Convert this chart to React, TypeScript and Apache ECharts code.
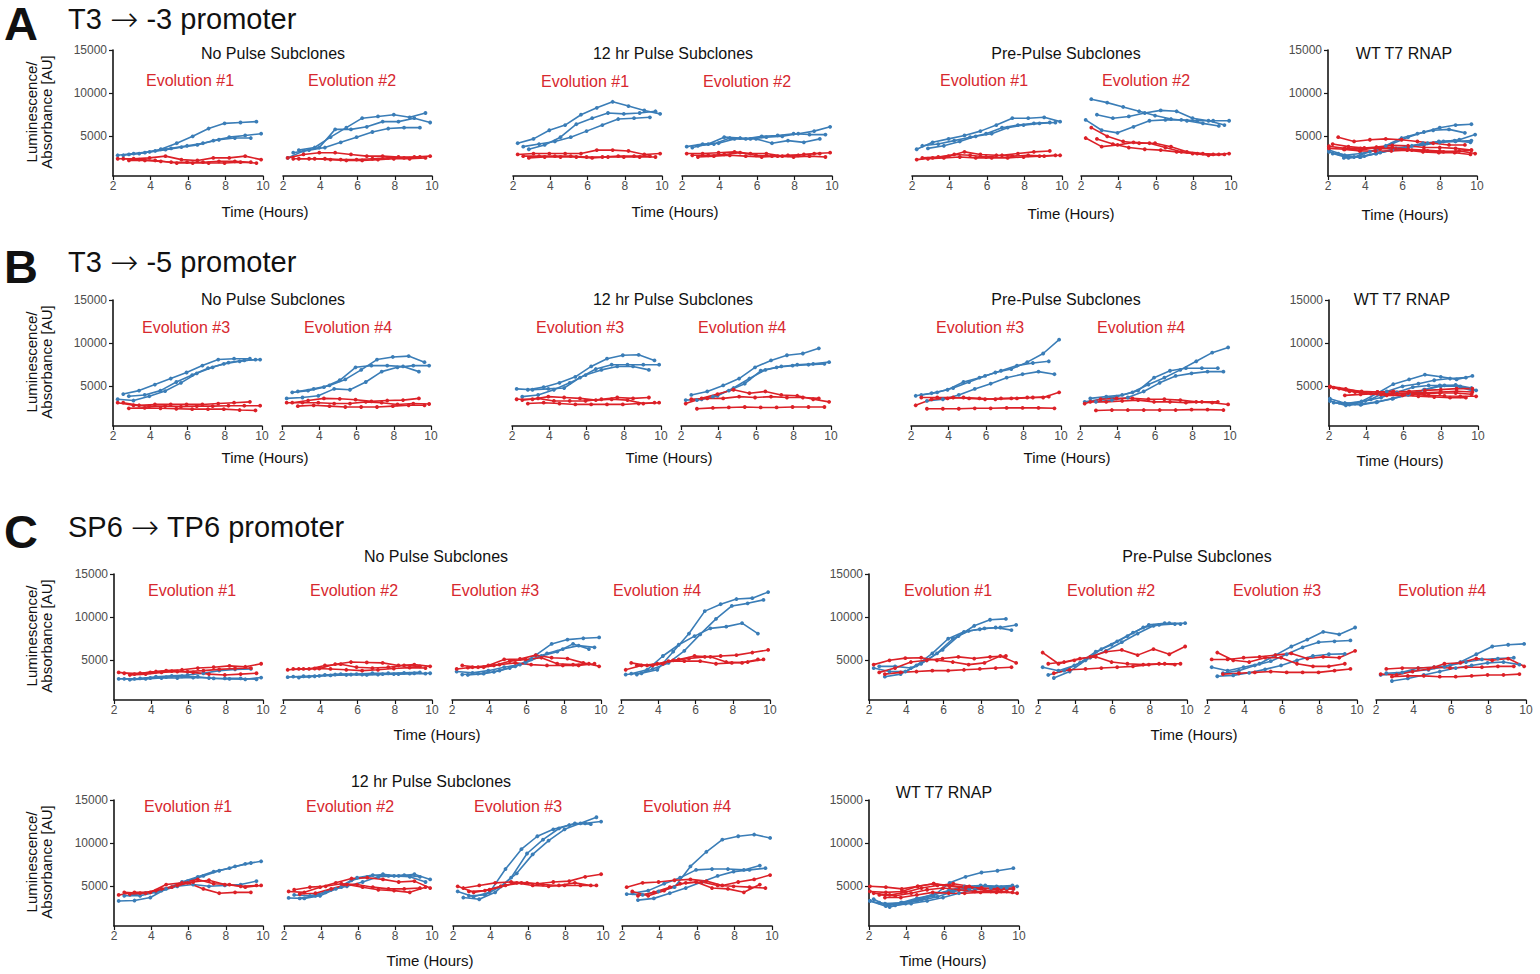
import React, { useEffect, useRef } from "react";
import * as echarts from "echarts";

// measurement times (hours) of the three wells per panel, plus an extra one used in WT panels
const T1 = [2.25, 3.1, 3.95, 4.8, 5.65, 6.5, 7.35, 8.2, 9.05, 9.9];
const T2 = [2.55, 3.4, 4.25, 5.1, 5.95, 6.8, 7.65, 8.5, 9.35];
const T3 = [2.85, 3.7, 4.55, 5.4, 6.25, 7.1, 7.95, 8.8, 9.65];
const TW = [2.05, 2.9, 3.75, 4.6, 5.45, 6.3, 7.15, 8.0, 8.85, 9.7];
const LINE_TIMES = [T1, T2, T3];
const WT_TIMES = [TW, T1, T2, T3, TW];

const X_TICKS = [2, 4, 6, 8, 10];
const Y_TICKS = [5000, 10000, 15000];

// ---------- A: T3 -> -3 promoter ----------
const A_NP1_BLUE = [
  [2800, 3000, 3200, 3450, 3750, 4000, 4500, 4900, 5100, 5300],
  [2800, 3000, 3300, 3600, 3900, 4200, 4600, 4800, 4800],
  [2900, 3100, 3500, 4200, 5000, 5900, 6500, 6600, 6700],
];
const A_NP1_RED = [
  [2400, 2400, 2500, 2700, 2300, 2200, 2500, 2500, 2700, 2300],
  [2400, 2300, 2200, 2000, 2000, 2000, 2100, 2100, 2000],
  [2200, 2200, 2100, 1900, 1900, 1900, 1900, 2000, 1900],
];
const A_NP2_BLUE = [
  [2500, 3300, 3700, 5800, 5800, 6100, 6700, 6700, 7100, 6600],
  [3100, 3400, 3700, 4300, 4900, 5500, 5900, 6000, 6000],
  [3400, 3700, 4900, 6000, 7100, 7300, 7500, 7200, 7700],
];
const A_NP2_RED = [
  [2500, 2900, 3100, 3100, 2900, 2700, 2700, 2600, 2600, 2700],
  [2400, 2400, 2400, 2300, 2300, 2400, 2500, 2500, 2600],
  [2400, 2400, 2300, 2200, 2200, 2300, 2400, 2400, 2500],
];
const A_12_1_BLUE = [
  [4200, 4700, 5700, 6300, 7500, 8300, 9000, 8500, 8000, 7600],
  [3800, 4100, 4400, 4900, 5600, 6300, 7000, 7100, 7200],
  [3500, 4000, 4900, 6400, 7100, 7700, 7600, 7700, 7900],
];
const A_12_1_RED = [
  [2900, 3000, 3000, 3000, 3000, 3400, 3400, 3300, 2900, 3000],
  [2700, 2700, 2700, 2700, 2600, 2600, 2700, 2700, 2700],
  [2500, 2600, 2600, 2600, 2500, 2600, 2600, 2600, 2600],
];
const A_12_2_BLUE = [
  [3800, 4100, 4200, 4700, 4700, 4900, 5000, 5300, 5600, 6100],
  [3700, 4100, 4900, 4800, 4700, 4200, 4500, 4300, 4700],
  [3900, 4100, 4800, 4700, 5000, 5100, 5300, 5200, 5200],
];
const A_12_2_RED = [
  [3000, 3000, 3100, 3200, 3000, 3000, 2700, 2800, 3000, 3100],
  [2800, 2800, 2900, 3100, 2800, 2700, 2800, 2900, 3000],
  [2600, 2700, 2800, 2700, 2600, 2700, 2600, 2700, 2600],
];
const A_PRE1_BLUE = [
  [3500, 4300, 4700, 5100, 5600, 6300, 7100, 7100, 7200, 6700],
  [3900, 4100, 4500, 4900, 5300, 6000, 6300, 6500, 6600],
  [3600, 3900, 4400, 5000, 5300, 6000, 6300, 6500, 6600],
];
const A_PRE1_RED = [
  [2300, 2500, 2700, 3200, 2900, 2800, 2700, 2800, 2700, 2800],
  [2500, 2600, 2900, 2800, 2600, 2800, 3000, 3200, 3300],
  [2400, 2500, 2600, 2500, 2500, 2500, 2600, 2700, 2800],
];
const A_PRE2_BLUE = [
  [6900, 5700, 5400, 6100, 6800, 6900, 6900, 6800, 6800, 6800],
  [9300, 8900, 8400, 7900, 7400, 7000, 6800, 6500, 6200],
  [7500, 7100, 7300, 7700, 8000, 7900, 7100, 6800, 6300],
];
const A_PRE2_RED = [
  [4800, 3800, 4000, 4300, 4200, 3700, 3200, 3000, 2900, 3000],
  [6000, 5000, 4400, 4200, 4200, 3800, 3200, 3000, 2900],
  [4700, 4100, 3700, 3500, 3400, 3200, 3000, 2800, 2900],
];
const A_WT_BLUE = [
  [3400, 2800, 3000, 3400, 4150, 4900, 5500, 6000, 6300, 6400],
  [3000, 2500, 2700, 3100, 3600, 3900, 4200, 4400, 4600, 5200],
  [3000, 2600, 3200, 3900, 4800, 5300, 5700, 5800, 5400],
  [2500, 2600, 3000, 3400, 3800, 4200, 4400, 4500, 4300],
  [3200, 2700, 2600, 3000, 3400, 3700, 4000, 4300, 4400, 4500],
];
const A_WT_RED = [
  [3850, 3600, 3600, 3750, 3950, 3900, 3700, 3700, 3600, 3400],
  [4100, 3800, 3650, 3550, 3550, 3400, 3300, 3200, 3300, 3000],
  [4900, 4400, 4600, 4700, 4600, 4400, 4200, 4000, 4000],
  [3500, 3300, 3300, 3300, 3400, 3200, 3100, 3100, 2900],
  [3600, 3500, 3400, 3700, 3700, 3500, 3400, 3300, 3200, 3400],
];

// ---------- B: T3 -> -5 promoter ----------
const B_NP1_BLUE = [
  [3500, 3350, 3850, 4450, 5400, 6500, 7200, 7750, 8000, 8100],
  [4100, 4500, 5200, 5900, 6600, 7400, 8100, 8200, 8200],
  [3850, 4000, 4500, 5500, 6300, 7100, 7600, 7900, 8100],
];
const B_NP1_RED = [
  [3100, 2800, 2700, 2700, 2650, 2700, 2700, 2750, 2750, 2750],
  [3100, 2800, 2900, 2900, 2900, 2900, 3000, 3100, 3200],
  [2450, 2500, 2450, 2400, 2350, 2350, 2350, 2250, 2200],
];
const B_NP2_BLUE = [
  [3600, 3700, 3900, 4700, 4600, 5500, 6700, 7200, 7400, 7400],
  [4300, 4500, 4900, 5700, 7200, 7400, 7400, 7300, 6700],
  [4400, 4700, 5100, 5800, 6900, 8100, 8400, 8500, 7800],
];
const B_NP2_RED = [
  [3100, 3100, 3100, 3000, 3000, 3200, 3100, 2900, 3000, 2950],
  [3100, 3350, 3600, 3550, 3450, 3250, 3350, 3400, 3600],
  [2700, 2800, 2700, 2600, 2600, 2600, 2700, 2800, 2800],
];
const B_12_1_BLUE = [
  [4700, 4600, 4700, 4800, 6000, 7000, 7500, 7500, 7500, 7500],
  [3800, 4000, 4600, 5400, 6300, 6900, 7300, 7300, 6900],
  [4600, 4900, 5400, 6100, 7300, 8200, 8600, 8650, 8000],
];
const B_12_1_RED = [
  [3500, 3500, 3800, 3700, 3600, 3400, 3500, 3400, 3000, 3100],
  [3400, 3600, 3300, 3300, 3300, 3500, 3700, 3600, 3700],
  [3000, 3100, 3000, 2900, 2900, 2900, 2900, 3000, 3100],
];
const B_12_2_BLUE = [
  [3400, 3500, 3900, 4800, 5900, 6900, 7300, 7500, 7600, 7800],
  [4000, 4400, 5100, 5900, 7200, 8000, 8600, 8800, 9400],
  [3400, 3800, 4500, 5300, 6800, 7200, 7400, 7500, 7600],
];
const B_12_2_RED = [
  [3000, 3600, 4100, 4600, 4200, 4400, 4000, 3900, 3500, 3200],
  [3500, 3600, 3600, 3800, 3700, 3800, 3700, 3700, 3600],
  [2400, 2500, 2550, 2600, 2550, 2550, 2600, 2600, 2600],
];
const B_PRE1_BLUE = [
  [3900, 4200, 4600, 5500, 6000, 6600, 7000, 7800, 8800, 10400],
  [4000, 4300, 4800, 5500, 6200, 6800, 7400, 7700, 7900],
  [3300, 3500, 4000, 4700, 5300, 6000, 6400, 6700, 6400],
];
const B_PRE1_RED = [
  [2800, 3500, 3600, 3700, 3600, 3500, 3600, 3700, 3700, 4300],
  [3700, 3700, 3700, 3600, 3500, 3600, 3600, 3700, 3800],
  [2400, 2400, 2400, 2450, 2450, 2500, 2500, 2500, 2450],
];
const B_PRE2_BLUE = [
  [3200, 3500, 3800, 4300, 5200, 6000, 6900, 7900, 8900, 9500],
  [3600, 3800, 4000, 4500, 6000, 6800, 7100, 7100, 7100],
  [3200, 3400, 3700, 4400, 5400, 6200, 6500, 6700, 6700],
];
const B_PRE2_RED = [
  [3000, 3500, 3600, 3600, 3500, 3500, 3400, 3200, 3100, 2900],
  [3200, 3200, 3300, 3400, 3200, 3200, 3100, 3200, 3200],
  [2200, 2250, 2250, 2250, 2250, 2250, 2300, 2300, 2250],
];
const B_WT_BLUE = [
  [3560, 3000, 3250, 4200, 5250, 5800, 6350, 6100, 5800, 6200],
  [3100, 2870, 3300, 3700, 4300, 4900, 5100, 5100, 5000, 4530],
  [3100, 3000, 3500, 4400, 5000, 5300, 5700, 5900, 6000],
  [3060, 2850, 3150, 3550, 4000, 4600, 5100, 5150, 4800],
  [3290, 2790, 2950, 3200, 3600, 4100, 4600, 5000, 5000, 4500],
];
const B_WT_RED = [
  [5000, 4700, 4340, 4340, 4340, 4420, 4530, 4610, 4730, 4730],
  [4840, 4420, 4220, 4070, 4150, 4070, 3950, 3880, 3840, 3840],
  [4730, 4340, 4150, 3950, 3950, 3840, 3760, 3680, 3680],
  [3950, 4070, 4150, 4150, 4220, 4150, 4220, 4220, 4070],
  [4920, 4610, 4420, 4340, 4420, 4340, 4260, 4340, 4420, 4340],
];

// ---------- C: SP6 -> TP6 promoter ----------
const C_NP1_BLUE = [
  [2850, 2850, 2950, 3050, 3150, 3100, 2900, 2850, 2800, 3000],
  [2850, 2900, 3100, 3200, 3300, 3500, 3800, 3950, 4000],
  [2750, 2850, 2950, 2950, 3000, 2950, 2900, 2900, 2800],
];
const C_NP1_RED = [
  [3600, 3400, 3600, 3800, 3900, 4100, 4200, 4350, 4250, 4600],
  [3500, 3500, 3700, 3750, 3700, 3800, 3950, 4050, 4100],
  [3300, 3400, 3600, 3700, 3600, 3400, 3300, 3400, 3500],
];
const C_NP2_BLUE = [
  [3050, 3150, 3200, 3350, 3350, 3300, 3400, 3400, 3500, 3500],
  [3100, 3100, 3300, 3400, 3400, 3500, 3500, 3550, 3600],
  [3000, 3150, 3250, 3300, 3350, 3350, 3400, 3450, 3450],
];
const C_NP2_RED = [
  [3900, 4000, 4050, 4550, 4800, 4750, 4700, 4400, 4500, 4300],
  [4000, 4000, 4400, 4550, 4200, 4100, 4200, 4400, 4300],
  [4000, 4050, 4000, 3900, 3800, 3900, 4050, 4150, 4100],
];
const C_NP3_BLUE = [
  [3700, 3550, 3800, 4200, 4500, 5600, 6900, 7400, 7550, 7650],
  [3350, 3450, 3650, 4100, 4700, 5500, 6000, 6900, 6300],
  [3300, 3450, 3800, 4300, 5100, 5800, 6300, 6700, 6500],
];
const C_NP3_RED = [
  [4000, 4200, 4400, 5100, 5150, 5600, 5300, 5200, 4700, 4300],
  [4400, 4200, 4400, 4900, 5100, 5300, 4600, 4500, 4600],
  [4150, 4200, 4500, 4700, 4500, 4400, 4400, 4400, 4600],
];
const C_NP4_BLUE = [
  [3350, 3500, 3900, 6000, 8100, 10700, 11500, 12100, 12200, 12900],
  [3450, 3900, 5500, 6800, 7800, 8700, 8900, 9300, 8100],
  [3350, 4000, 4700, 6100, 8000, 9800, 11300, 11600, 12000],
];
const C_NP4_RED = [
  [3900, 4400, 4600, 5000, 5200, 5400, 5500, 5600, 5900, 6200],
  [4700, 4400, 4600, 5100, 5500, 5400, 4800, 4700, 5100],
  [4400, 4400, 4900, 4900, 4900, 4600, 4700, 4800, 5100],
];
const C_PRE1_BLUE = [
  [4100, 3700, 3700, 4600, 5800, 7500, 8400, 8700, 8800, 9100],
  [4300, 4300, 4100, 5000, 6200, 7800, 9000, 9700, 9800],
  [3100, 3400, 4400, 5800, 7500, 8300, 8600, 8800, 8500],
];
const C_PRE1_RED = [
  [4500, 5000, 5250, 5300, 5000, 4800, 4500, 4700, 5500, 4700],
  [3600, 4100, 4800, 5000, 5200, 5400, 5200, 5400, 5500],
  [3400, 3600, 3700, 3800, 3800, 3900, 4000, 4100, 4200],
];
const C_PRE2_BLUE = [
  [4200, 3800, 4400, 5300, 6100, 7100, 8100, 9000, 9300, 9300],
  [3300, 3800, 4700, 6000, 6800, 7800, 8800, 9100, 9200],
  [2950, 3700, 5000, 6300, 7200, 8200, 9100, 9300, 9200],
];
const C_PRE2_RED = [
  [5900, 4600, 5000, 5400, 6000, 6200, 5600, 6300, 5700, 6600],
  [4600, 4800, 5200, 5400, 4800, 4600, 4500, 4600, 4500],
  [3500, 3900, 4000, 4100, 4200, 4300, 4500, 4600, 4600],
];
const C_PRE3_BLUE = [
  [4200, 3800, 4200, 4600, 5600, 6600, 7400, 8300, 8000, 8800],
  [3150, 3250, 3550, 3950, 4400, 5000, 5500, 5700, 5750],
  [3500, 3800, 4400, 4900, 5700, 6500, 7100, 7200, 7300],
];
const C_PRE3_RED = [
  [5100, 5100, 5300, 5400, 5600, 5800, 5200, 5400, 5300, 6100],
  [5900, 5000, 4800, 5300, 5300, 4600, 4300, 4300, 4600],
  [3400, 3500, 3600, 3700, 3600, 3600, 3600, 3800, 4000],
];
const C_PRE4_BLUE = [
  [3300, 3450, 3750, 3900, 4250, 4800, 5700, 6600, 6800, 6900],
  [3500, 3600, 4100, 4200, 4400, 4800, 5100, 5200, 5300],
  [2600, 2900, 3300, 3700, 4100, 4400, 4700, 4800, 4500],
];
const C_PRE4_RED = [
  [3400, 3300, 3700, 4000, 4600, 4700, 5200, 5000, 5200, 4300],
  [4000, 4100, 4100, 4200, 4100, 4200, 4200, 4300, 4300],
  [3100, 3200, 3200, 3100, 3100, 3200, 3300, 3300, 3400],
];
const C_12_1_BLUE = [
  [3300, 3350, 3700, 4700, 5500, 6100, 6700, 7100, 7600, 7900],
  [3900, 3900, 4300, 4900, 5600, 6200, 6800, 7300, 7700],
  [4000, 4200, 4500, 5000, 5200, 5000, 5100, 5200, 5600],
];
const C_12_1_RED = [
  [4000, 4300, 4300, 5200, 5400, 5800, 5300, 5200, 4900, 5100],
  [4300, 4200, 4500, 4900, 5400, 4700, 4200, 4300, 4300],
  [4100, 4200, 4700, 5100, 5500, 5700, 5200, 5000, 5100],
];
const C_12_2_BLUE = [
  [3650, 3600, 3900, 4700, 5700, 6100, 6400, 6200, 6400, 5800],
  [4000, 3900, 4300, 4900, 6000, 6300, 6200, 6300, 6100],
  [3600, 3900, 4600, 5000, 5500, 6100, 6200, 6100, 5500],
];
const C_12_2_RED = [
  [4400, 4300, 4900, 5400, 5900, 6000, 5800, 5500, 5600, 4800],
  [4600, 4900, 5000, 5300, 5200, 4900, 4700, 4700, 4800],
  [4100, 4200, 4700, 5200, 4900, 4600, 4500, 4300, 4900],
];
const C_12_3_BLUE = [
  [4400, 3800, 4300, 7000, 9300, 10800, 11600, 12100, 12300, 12500],
  [3700, 3500, 4300, 6000, 8800, 10400, 11700, 12300, 12200],
  [3900, 4000, 5000, 6500, 8700, 10300, 11600, 12300, 13000],
];
const C_12_3_RED = [
  [5000, 4300, 4600, 5100, 5400, 5300, 5500, 5600, 6100, 6400],
  [4800, 5100, 5400, 5500, 5400, 5200, 5100, 5400, 5100],
  [4400, 4500, 5000, 5400, 5100, 5000, 5100, 5100, 5100],
];
const C_12_4_BLUE = [
  [4100, 4000, 4400, 4900, 7300, 9000, 10400, 10800, 11000, 10600],
  [4200, 4500, 5300, 6000, 6900, 7000, 7000, 6900, 7400],
  [3400, 3600, 4200, 4800, 5500, 6200, 6700, 6900, 7100],
];
const C_12_4_RED = [
  [4900, 5400, 5500, 5700, 5800, 5600, 5100, 5500, 5800, 6300],
  [4400, 3900, 4500, 5300, 5500, 4800, 4700, 4300, 5200],
  [3900, 4300, 4900, 5400, 5500, 5100, 5000, 4900, 4800],
];
const C_WT_BLUE = [
  [3300, 2700, 3100, 3400, 3900, 5400, 6100, 6600, 6800, 7100],
  [3500, 2600, 3000, 3400, 3800, 4400, 4700, 5100, 4900, 5000],
  [3100, 2800, 3000, 3300, 3700, 4200, 4600, 4800, 4800],
  [3000, 3100, 3600, 4000, 4500, 5000, 5100, 5000, 5100],
  [3300, 2900, 3100, 3500, 4100, 4400, 4800, 5000, 4900, 4700],
];
const C_WT_RED = [
  [5000, 4900, 4700, 5000, 5300, 5100, 4900, 4800, 4700, 4800],
  [4200, 4000, 4300, 4800, 5100, 5300, 5000, 4500, 4400, 4200],
  [4000, 3900, 4200, 4600, 4800, 4600, 4400, 4400, 4400],
  [3700, 3700, 4000, 4300, 4200, 4200, 4300, 4300, 4300],
  [4400, 4300, 4400, 5000, 5300, 5000, 4800, 4800, 4600, 4700],
];

// ---------- layout ----------
const FONT = "'Liberation Sans', Arial, Helvetica, sans-serif";
const BLUE = "#3a7db7";
const RED = "#dc2027";
const TEXT_RED = "#d7282e";
const GRID_H = 126;
const TOP_A = 50;
const TOP_B = 300;
const TOP_CT = 574;
const TOP_CB = 800;

type Panel = { top: number; x0: number; x1: number; axisY: boolean; blue: number[][]; red: number[][]; wt?: boolean };

const PANELS: Panel[] = [
  { top: TOP_A, x0: 113, x1: 263, axisY: true, blue: A_NP1_BLUE, red: A_NP1_RED },
  { top: TOP_A, x0: 283, x1: 432, axisY: false, blue: A_NP2_BLUE, red: A_NP2_RED },
  { top: TOP_A, x0: 513, x1: 662, axisY: false, blue: A_12_1_BLUE, red: A_12_1_RED },
  { top: TOP_A, x0: 682, x1: 832, axisY: false, blue: A_12_2_BLUE, red: A_12_2_RED },
  { top: TOP_A, x0: 912, x1: 1062, axisY: false, blue: A_PRE1_BLUE, red: A_PRE1_RED },
  { top: TOP_A, x0: 1081, x1: 1231, axisY: false, blue: A_PRE2_BLUE, red: A_PRE2_RED },
  { top: TOP_A, x0: 1328, x1: 1477, axisY: true, blue: A_WT_BLUE, red: A_WT_RED, wt: true },

  { top: TOP_B, x0: 113, x1: 262, axisY: true, blue: B_NP1_BLUE, red: B_NP1_RED },
  { top: TOP_B, x0: 282, x1: 431, axisY: false, blue: B_NP2_BLUE, red: B_NP2_RED },
  { top: TOP_B, x0: 512, x1: 661, axisY: false, blue: B_12_1_BLUE, red: B_12_1_RED },
  { top: TOP_B, x0: 681, x1: 831, axisY: false, blue: B_12_2_BLUE, red: B_12_2_RED },
  { top: TOP_B, x0: 911, x1: 1061, axisY: false, blue: B_PRE1_BLUE, red: B_PRE1_RED },
  { top: TOP_B, x0: 1080, x1: 1230, axisY: false, blue: B_PRE2_BLUE, red: B_PRE2_RED },
  { top: TOP_B, x0: 1329, x1: 1478, axisY: true, blue: B_WT_BLUE, red: B_WT_RED, wt: true },

  { top: TOP_CT, x0: 114, x1: 263, axisY: true, blue: C_NP1_BLUE, red: C_NP1_RED },
  { top: TOP_CT, x0: 283, x1: 432, axisY: false, blue: C_NP2_BLUE, red: C_NP2_RED },
  { top: TOP_CT, x0: 452, x1: 601, axisY: false, blue: C_NP3_BLUE, red: C_NP3_RED },
  { top: TOP_CT, x0: 621, x1: 770, axisY: false, blue: C_NP4_BLUE, red: C_NP4_RED },
  { top: TOP_CT, x0: 869, x1: 1018, axisY: true, blue: C_PRE1_BLUE, red: C_PRE1_RED },
  { top: TOP_CT, x0: 1038, x1: 1187, axisY: false, blue: C_PRE2_BLUE, red: C_PRE2_RED },
  { top: TOP_CT, x0: 1207, x1: 1357, axisY: false, blue: C_PRE3_BLUE, red: C_PRE3_RED },
  { top: TOP_CT, x0: 1376, x1: 1526, axisY: false, blue: C_PRE4_BLUE, red: C_PRE4_RED },

  { top: TOP_CB, x0: 114, x1: 263, axisY: true, blue: C_12_1_BLUE, red: C_12_1_RED },
  { top: TOP_CB, x0: 284, x1: 432, axisY: false, blue: C_12_2_BLUE, red: C_12_2_RED },
  { top: TOP_CB, x0: 453, x1: 603, axisY: false, blue: C_12_3_BLUE, red: C_12_3_RED },
  { top: TOP_CB, x0: 622, x1: 772, axisY: false, blue: C_12_4_BLUE, red: C_12_4_RED },
  { top: TOP_CB, x0: 869, x1: 1019, axisY: true, blue: C_WT_BLUE, red: C_WT_RED, wt: true },
];

// [text, x, y]
const GROUP_TITLES: [string, number, number][] = [
  ["No Pulse Subclones", 273, 53],
  ["12 hr Pulse Subclones", 673, 53],
  ["Pre-Pulse Subclones", 1066, 53],
  ["WT T7 RNAP", 1404, 53],
  ["No Pulse Subclones", 273, 299],
  ["12 hr Pulse Subclones", 673, 299],
  ["Pre-Pulse Subclones", 1066, 299],
  ["WT T7 RNAP", 1402, 299],
  ["No Pulse Subclones", 436, 556],
  ["Pre-Pulse Subclones", 1197, 556],
  ["12 hr Pulse Subclones", 431, 781],
  ["WT T7 RNAP", 944, 792],
];
const EVO_LABELS: [string, number, number][] = [
  ["Evolution #1", 190, 80], ["Evolution #2", 352, 80],
  ["Evolution #1", 585, 81], ["Evolution #2", 747, 81],
  ["Evolution #1", 984, 80], ["Evolution #2", 1146, 80],
  ["Evolution #3", 186, 327], ["Evolution #4", 348, 327],
  ["Evolution #3", 580, 327], ["Evolution #4", 742, 327],
  ["Evolution #3", 980, 327], ["Evolution #4", 1141, 327],
  ["Evolution #1", 192, 590], ["Evolution #2", 354, 590],
  ["Evolution #3", 495, 590], ["Evolution #4", 657, 590],
  ["Evolution #1", 948, 590], ["Evolution #2", 1111, 590],
  ["Evolution #3", 1277, 590], ["Evolution #4", 1442, 590],
  ["Evolution #1", 188, 806], ["Evolution #2", 350, 806],
  ["Evolution #3", 518, 806], ["Evolution #4", 687, 806],
];
const TIME_LABELS: [number, number][] = [
  [265, 211], [675, 211], [1071, 213], [1405, 214],
  [265, 457], [669, 457], [1067, 457], [1400, 460],
  [437, 734], [1194, 734],
  [430, 960], [943, 960],
];
// [letter, before arrow, after arrow, y]
const SECTION_TITLES: [string, string, string, number][] = [
  ["A", "T3 ", " -3 promoter", 19],
  ["B", "T3 ", " -5 promoter", 262],
  ["C", "SP6 ", " TP6 promoter", 527],
];
const YNAME_ROWS = [TOP_A, TOP_B, TOP_CT, TOP_CB];

function text(t: string, x: number, y: number, size: number, color: string, extra: any = {}) {
  return {
    type: "text",
    x,
    y,
    silent: true,
    style: {
      text: t,
      fontSize: size,
      fontFamily: FONT,
      fill: color,
      align: "center",
      verticalAlign: "middle",
      textAlign: "center",
      textVerticalAlign: "middle",
      ...extra,
    },
  };
}

function buildOption() {
  const axisLineStyle = { color: "#161616", width: 1.6 };
  const grid = PANELS.map((p) => ({ left: p.x0, top: p.top, width: p.x1 - p.x0, height: GRID_H }));
  const xAxis = PANELS.map((p, i) => ({
    gridIndex: i,
    type: "value",
    min: X_TICKS[0],
    max: X_TICKS[X_TICKS.length - 1],
    interval: 2,
    axisLine: { show: true, onZero: false, lineStyle: axisLineStyle },
    axisTick: { show: true, length: 4, lineStyle: { color: "#161616", width: 1.2 } },
    axisLabel: { color: "#4d4d4d", fontSize: 12, margin: 4, fontFamily: FONT, formatter: (v: number) => String(v) },
    splitLine: { show: false },
  }));
  const yAxis = PANELS.map((p, i) => ({
    gridIndex: i,
    type: "value",
    min: 400,
    max: 15000,
    show: p.axisY,
    axisLine: { show: true, onZero: false, lineStyle: axisLineStyle },
    axisTick: { show: true, length: 4, customValues: Y_TICKS, lineStyle: { color: "#161616", width: 1.2 } },
    axisLabel: {
      customValues: Y_TICKS,
      color: "#4d4d4d",
      fontSize: 12,
      margin: 6,
      fontFamily: FONT,
      formatter: (v: number) => String(v),
    },
    splitLine: { show: false },
  }));

  const series: any[] = [];
  PANELS.forEach((p, i) => {
    const times = p.wt ? WT_TIMES : LINE_TIMES;
    const add = (lines: number[][], color: string) =>
      lines.forEach((vals, j) => {
        const ts = times[j % times.length];
        series.push({
          type: "line",
          xAxisIndex: i,
          yAxisIndex: i,
          silent: true,
          symbol: "circle",
          symbolSize: 3.8,
          showSymbol: true,
          lineStyle: { color, width: 1.6 },
          itemStyle: { color },
          data: vals.slice(0, ts.length).map((v, k) => [ts[k], v]),
        });
      });
    add(p.blue, BLUE);
    add(p.red, RED);
  });

  const graphic: any[] = [];
  SECTION_TITLES.forEach(([letter, pre, post, y]) => {
    graphic.push(
      text(letter, 4, y + 4, 47, "#111", { align: "left", textAlign: "left", fontWeight: "bold", lineHeight: 40 })
    );
    graphic.push(
      text(`${pre}{arr|\u2192}${post}`, 68, y, 29, "#111", {
        align: "left",
        textAlign: "left",
        rich: { arr: { fontFamily: "'DejaVu Sans'", fontWeight: 200, fontSize: 34, fill: "#111" } },
      })
    );
  });
  GROUP_TITLES.forEach(([t, x, y]) => graphic.push(text(t, x, y, 16, "#111")));
  EVO_LABELS.forEach(([t, x, y]) => graphic.push(text(t, x, y, 16, TEXT_RED)));
  TIME_LABELS.forEach(([x, y]) => graphic.push(text("Time (Hours)", x, y, 15, "#111")));
  YNAME_ROWS.forEach((top) => {
    graphic.push({
      ...text("Luminescence/\nAbsorbance [AU]", 0, 0, 15, "#111", { lineHeight: 15 }),
      x: 39,
      y: top + 62,
      rotation: Math.PI / 2,
    });
  });

  return {
    animation: false,
    backgroundColor: "#ffffff",
    grid,
    xAxis,
    yAxis,
    series,
    graphic,
  };
}

export default function App() {
  const ref = useRef<HTMLDivElement>(null);
  useEffect(() => {
    if (!ref.current) return;
    const chart = echarts.init(ref.current, null, { renderer: "svg" });
    chart.setOption(buildOption() as any);
    return () => chart.dispose();
  }, []);
  return (
    <div
      ref={ref}
      style={{ position: "absolute", left: 0, top: 0, width: 1540, height: 974, background: "#fff" }}
    />
  );
}
